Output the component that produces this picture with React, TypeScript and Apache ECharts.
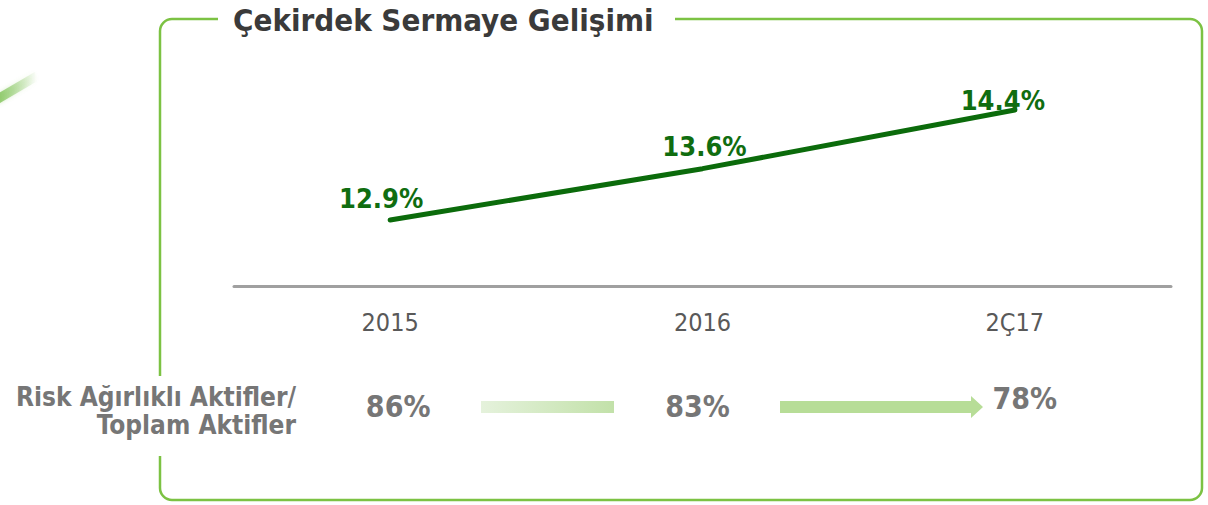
import React, { useEffect, useRef } from "react";
import * as echarts from "echarts";

const categories = ["2015", "2016", "2Ç17"];
const coreCapital = [12.9, 13.6, 14.4];
const rwaRatio = [86, 83, 78];
const titleText = "Çekirdek Sermaye Gelişimi";
const rowLabel = "Risk Ağırlıklı Aktifler/\nToplam Aktifler";

const FONT = "'DejaVu Sans Condensed', 'DejaVu Sans', sans-serif";
const GREEN_FRAME = "#7cc243";
const LINE_GREEN = "#0b6b0b";
const LABEL_GREEN = "#106d10";
const GRAY = "#767676";

const capLabelOffsets = [[-9, -3], [2, -3], [-12, 9]];
const rwaLabelOffsets = [[8, 0], [-5, 0], [10, -8]];

export default function App() {
  const ref = useRef<HTMLDivElement>(null);
  useEffect(() => {
    if (!ref.current) return;
    const chart = echarts.init(ref.current, undefined, { renderer: "svg" });
    const option: any = {
      animation: false,
      backgroundColor: "#ffffff",
      title: {
        text: titleText,
        left: 228,
        top: -1,
        textStyle: { fontFamily: FONT, fontWeight: "bold", fontSize: 31, color: "#3a3a3a" },
      },
      grid: [
        { left: 234, right: 37, top: 66, bottom: 219 },
        { left: 234, right: 37, top: 386, height: 40 },
      ],
      xAxis: [
        {
          type: "category",
          gridIndex: 0,
          data: categories,
          boundaryGap: true,
          axisLine: { show: true, lineStyle: { color: "#a0a0a0", width: 3 } },
          axisTick: { show: false },
          axisLabel: { margin: 24, fontFamily: FONT, fontSize: 25, color: "#595959" },
          splitLine: { show: false },
        },
        {
          type: "category",
          gridIndex: 1,
          data: categories,
          boundaryGap: true,
          show: false,
        },
      ],
      yAxis: [
        { type: "value", gridIndex: 0, min: 12, max: 15, show: false, splitLine: { show: false } },
        { type: "value", gridIndex: 1, min: 0, max: 1, show: false, splitLine: { show: false } },
      ],
      series: [
        {
          type: "line",
          xAxisIndex: 0,
          yAxisIndex: 0,
          data: coreCapital.map((v, i) => ({
            value: v,
            label: { offset: capLabelOffsets[i] },
          })),
          symbol: "circle",
          symbolSize: 1,
          showSymbol: true,
          itemStyle: { color: LINE_GREEN },
          lineStyle: { color: LINE_GREEN, width: 5, cap: "round" },
          label: {
            show: true,
            position: "top",
            distance: 5,
            formatter: (p: any) => Number(p.value).toFixed(1) + "%",
            fontFamily: FONT,
            fontWeight: "bold",
            fontSize: 27,
            color: LABEL_GREEN,
          },
        },
        {
          type: "scatter",
          xAxisIndex: 1,
          yAxisIndex: 1,
          symbolSize: 0,
          itemStyle: { opacity: 1, color: GRAY },
          data: categories.map((c, i) => ({
            value: [c, 0.5],
            label: { offset: rwaLabelOffsets[i] },
          })),
          label: {
            show: true,
            position: "inside",
            formatter: (p: any) => rwaRatio[p.dataIndex] + "%",
            fontFamily: FONT,
            fontWeight: "bold",
            fontSize: 30,
            color: GRAY,
          },
        },
      ],
      graphic: [
        {
          type: "rect",
          z: 0,
          shape: { x: 160, y: 19, width: 1042, height: 481, r: 12 },
          style: { fill: "none", stroke: GREEN_FRAME, lineWidth: 2.5 },
        },
        {
          type: "rect",
          z: 1,
          shape: { x: 218, y: 10, width: 457, height: 18 },
          style: { fill: "#ffffff" },
        },
        {
          type: "rect",
          z: 1,
          shape: { x: 150, y: 376, width: 20, height: 80 },
          style: { fill: "#ffffff" },
        },
        {
          type: "text",
          z: 2,
          x: 296,
          y: 383,
          style: {
            text: rowLabel,
            textAlign: "right",
            fontFamily: FONT,
            fontWeight: "bold",
            fontSize: 26,
            lineHeight: 28,
            fill: GRAY,
          },
        },
        {
          type: "rect",
          z: 2,
          shape: { x: 481, y: 401, width: 133, height: 12 },
          style: {
            fill: new echarts.graphic.LinearGradient(0, 0, 1, 0, [
              { offset: 0, color: "#e5f2dc" },
              { offset: 1, color: "#c2e1a9" },
            ]),
          },
        },
        {
          type: "polygon",
          z: 2,
          shape: {
            points: [
              [780, 401],
              [971, 401],
              [971, 396],
              [983, 407],
              [971, 418],
              [971, 413],
              [780, 413],
            ],
          },
          style: { fill: "#b7dd97" },
        },
        {
          type: "line",
          z: 2,
          shape: { x1: -4, y1: 100, x2: 37, y2: 76 },
          style: {
            stroke: new echarts.graphic.LinearGradient(0, 0, 1, 0, [
              { offset: 0, color: "rgba(130,196,90,0.9)" },
              { offset: 1, color: "rgba(130,196,90,0)" },
            ]),
            lineWidth: 9,
            shadowBlur: 4,
            shadowColor: "rgba(130,196,90,0.4)",
          },
        },
      ],
    };
    chart.setOption(option);
    return () => chart.dispose();
  }, []);
  return (
    <div
      ref={ref}
      style={{ position: "fixed", left: 0, top: 0, width: 1208, height: 505 }}
    />
  );
}
